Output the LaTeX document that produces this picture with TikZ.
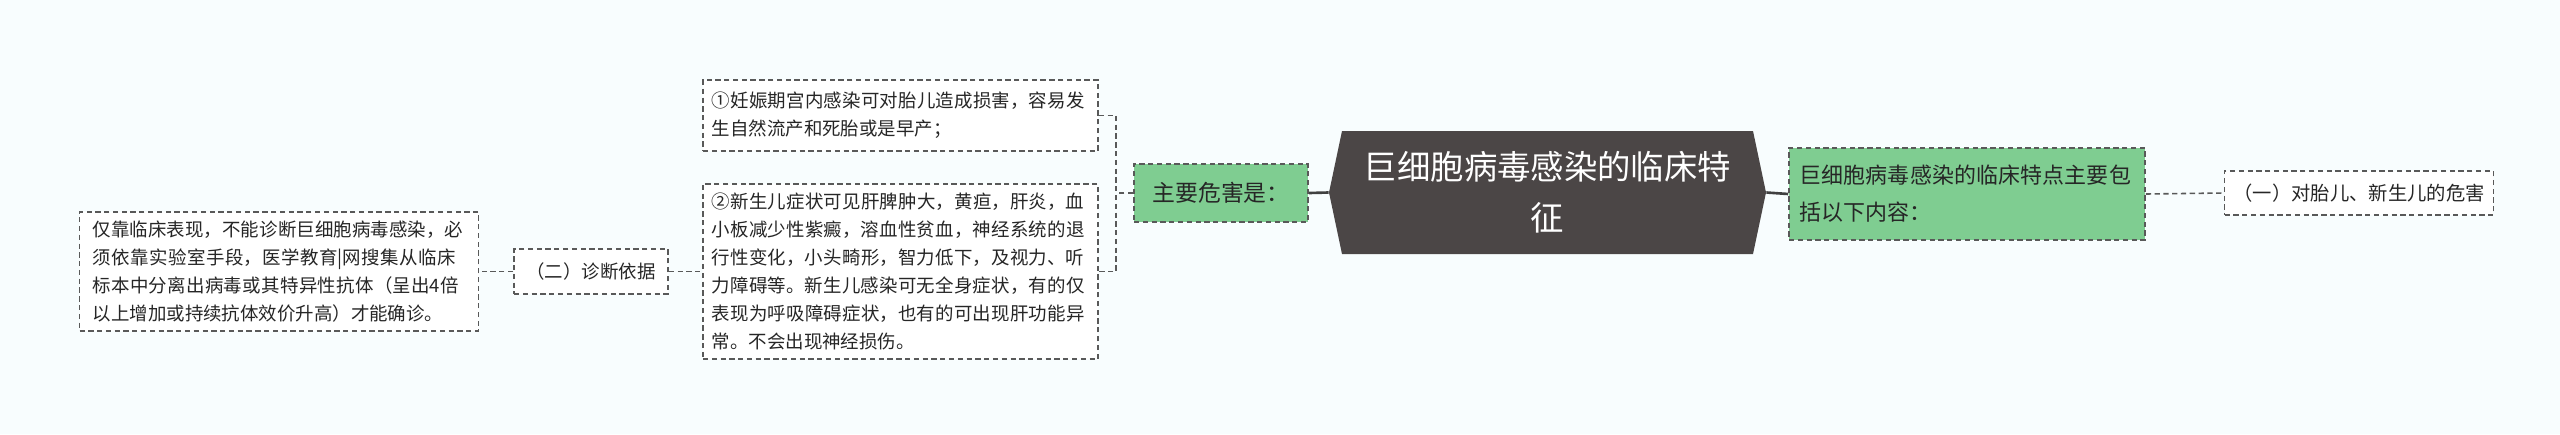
\documentclass[tikz,border=0pt]{standalone}
\usepackage{fontspec}
\setmainfont{Noto Sans CJK SC}
\XeTeXlinebreaklocale "zh"
\XeTeXlinebreakskip=0pt plus 1pt
\begin{document}
\begin{tikzpicture}[x=1cm,y=-1cm,
  leaf/.style={draw=black!65,dash pattern=on 3pt off 2pt,line width=0.9pt,fill=white,inner sep=5pt,align=left,font=\fontsize{10.5pt}{16pt}\selectfont,text=black!85},
  green/.style={draw=black!65,dash pattern=on 3pt off 2pt,line width=0.9pt,align=left,text=black!85,inner sep=5pt},
  conn/.style={draw=black!65,dash pattern=on 3pt off 2pt,line width=0.9pt},
  sconn/.style={draw=black!75,line width=1.5pt}]
\definecolor{bg}{HTML}{F8FDFE}
\definecolor{gr}{HTML}{7FCD91}
\definecolor{dk}{HTML}{4B4646}
\fill[bg] (0,0) rectangle (51.2,8.68);
\useasboundingbox (0,0) rectangle (51.2,8.68);
\fill[dk] (26.84,2.62) -- (35.06,2.62) -- (35.32,3.85) -- (35.06,5.08) -- (26.84,5.08) -- (26.58,3.85) -- cycle;
\node[text=white,align=center,font=\fontsize{19pt}{29pt}\selectfont,minimum width=8.74cm,minimum height=2.46cm] (c) at (30.95,3.85) {巨细胞病毒感染的临床特\\征};
\node[green,fill=gr,text width=6.7cm,minimum width=7.12cm,minimum height=1.84cm,font=\fontsize{12.5pt}{21pt}\selectfont] (g) at (39.34,3.88) {巨细胞病毒感染的临床特点主要包括以下内容：};
\node[leaf,minimum width=5.28cm,minimum height=0.88cm,align=center,font=\fontsize{11pt}{16pt}\selectfont] (r) at (47.18,3.86) {（一）对胎儿、新生儿的危害};
\node[green,fill=gr,minimum width=3.48cm,minimum height=1.16cm,font=\fontsize{13pt}{18pt}\selectfont] (m) at (24.42,3.86) {主要危害是：};
\node[leaf,text width=7.55cm,minimum height=1.42cm] (b1) at (18.01,2.31) {①妊娠期宫内感染可对胎儿造成损害，容易发生自然流产和死胎或是早产；};
\node[leaf,text width=7.55cm,minimum height=3.3cm] (b2) at (18.01,5.43) {②新生儿症状可见肝脾肿大，黄疸，肝炎，血小板减少性紫癜，溶血性贫血，神经系统的退行性变化，小头畸形，智力低下，及视力、听力障碍等。新生儿感染可无全身症状，有的仅表现为呼吸障碍症状，也有的可出现肝功能异常。不会出现神经损伤。};
\node[leaf,minimum width=3.08cm,minimum height=0.9cm] (d) at (11.82,5.43) {（二）诊断依据};
\node[leaf,text width=7.45cm,minimum width=7.98cm,minimum height=2.34cm] (l) at (5.58,5.43) {仅靠临床表现，不能诊断巨细胞病毒感染，必须依靠实验室手段，医学教育|网搜集从临床标本中分离出病毒或其特异性抗体（呈出4倍以上增加或持续抗体效价升高）才能确诊。};
\draw[sconn] (c.east) -- (g.west);
\draw[sconn] (c.west) -- (m.east);
\draw[conn] (g.east) -- (r.west);
\draw[conn] (m.west) -- (22.32,3.86);
\draw[conn] (b1.east) -- (22.32,2.31) -- (22.32,5.43) -- (b2.east);
\draw[conn] (d.east) -- (b2.west);
\draw[conn] (d.west) -- (l.east);
\end{tikzpicture}
\end{document}
